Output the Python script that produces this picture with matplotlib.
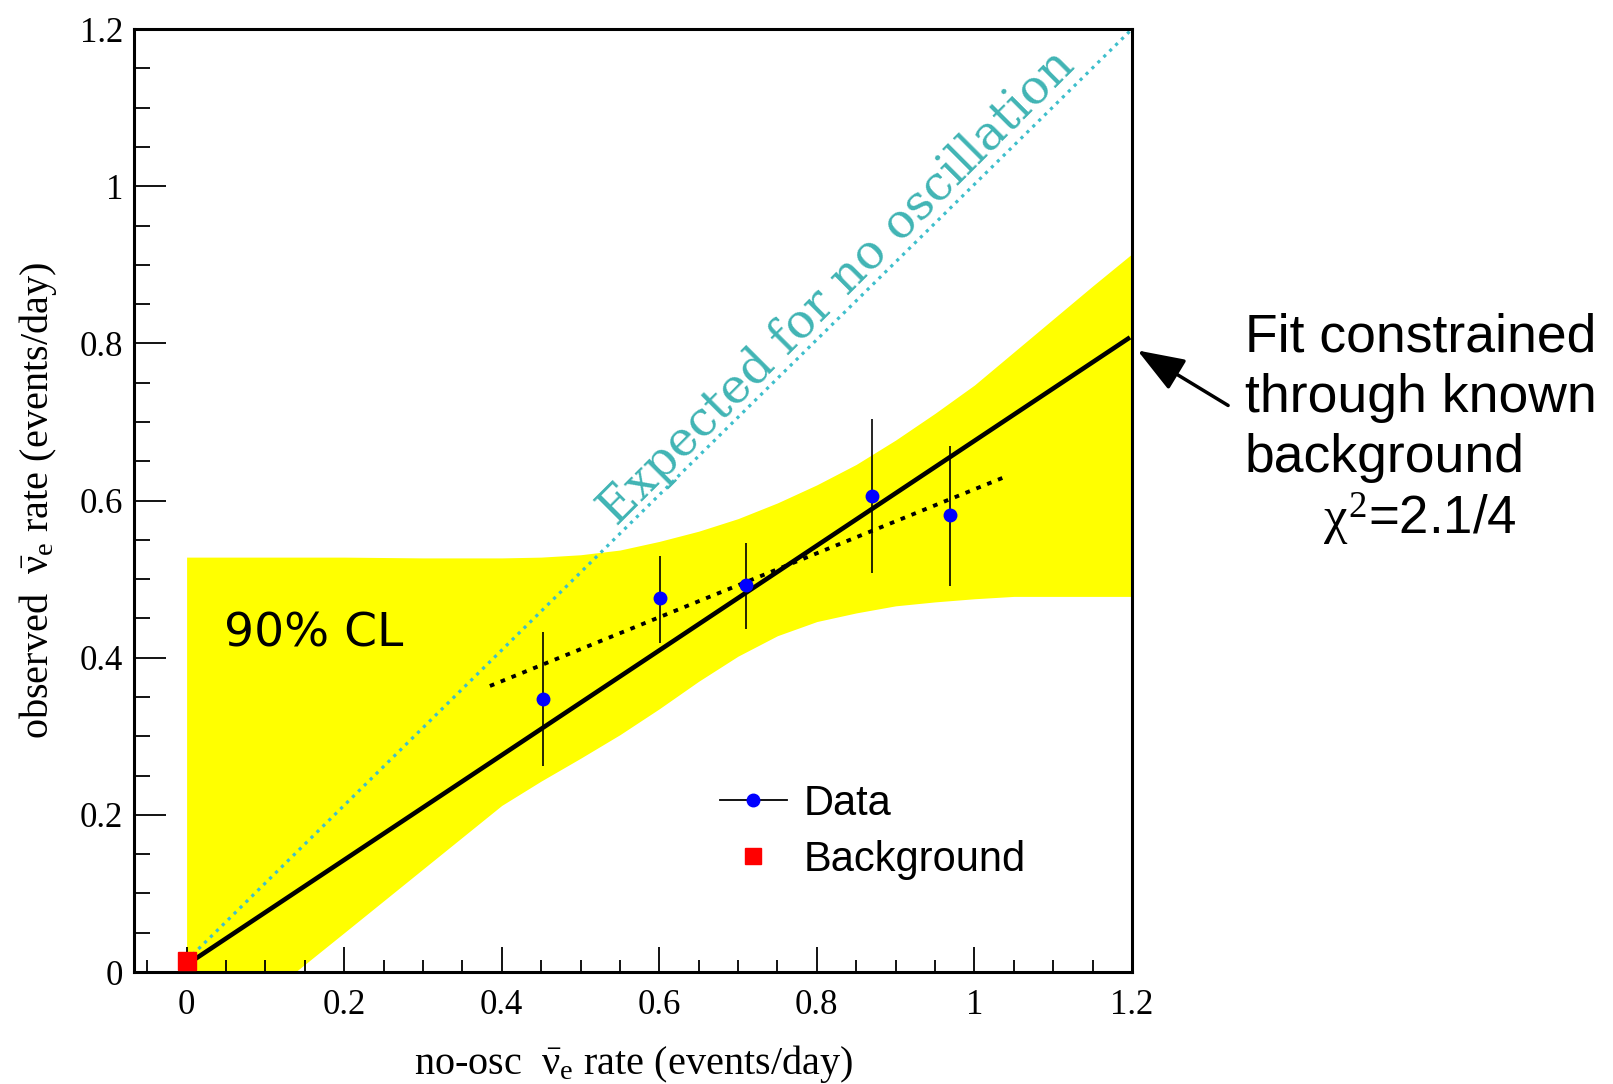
import numpy as np
import matplotlib
matplotlib.use("Agg")
import matplotlib.pyplot as plt
from matplotlib.ticker import MultipleLocator

plt.rcParams['mathtext.fontset'] = 'custom'
plt.rcParams['mathtext.rm'] = 'Liberation Serif'
plt.rcParams['mathtext.it'] = 'Liberation Serif'

# data
data_x = [0.452, 0.601, 0.710, 0.870, 0.969]
data_y = [0.348, 0.476, 0.492, 0.606, 0.581]
data_lo = [0.262, 0.419, 0.437, 0.508, 0.491]
data_hi = [0.433, 0.530, 0.546, 0.704, 0.669]

bkg_x = [0.0]
bkg_y = [0.0145]

fit_x = [0.01, 1.195]
fit_y = [0.016, 0.806]

free_fit_x = [0.385, 1.041]
free_fit_y = [0.364, 0.631]

expected_x = [0.0, 1.2]
expected_y = [0.0145, 1.2]

band_x = [0.0, 0.1, 0.138, 0.2, 0.3, 0.4, 0.45, 0.5, 0.55, 0.6, 0.65, 0.7,
          0.75, 0.8, 0.85, 0.9, 0.95, 1.0, 1.05, 1.1, 1.15, 1.2]
band_hi = [0.528, 0.528, 0.528, 0.528, 0.527, 0.527, 0.528, 0.531, 0.537, 0.548, 0.561, 0.577,
           0.597, 0.620, 0.646, 0.677, 0.711, 0.747, 0.789, 0.831, 0.873, 0.914]
band_lo = [0.0, 0.0, 0.0, 0.05, 0.131, 0.212, 0.243, 0.272, 0.302, 0.335, 0.370, 0.402,
           0.428, 0.446, 0.457, 0.466, 0.471, 0.475, 0.478, 0.478, 0.478, 0.478]

fig = plt.figure(figsize=(16.13, 10.84), dpi=100)
ax = fig.add_axes([0.0831, 0.1033, 0.6187, 0.8699])

ax.fill_between(band_x, band_lo, band_hi, color='#ffff00', linewidth=0, zorder=1)
ax.plot(expected_x, expected_y, linestyle=(0, (1, 1.6)), color='#3ebfcc', lw=2.3, zorder=2)
ax.plot(fit_x, fit_y, '-', color='black', lw=3.3, zorder=3)
ax.plot(free_fit_x, free_fit_y, linestyle=(0, (1.2, 1.8)), color='black', lw=2.8, zorder=3)

ax.vlines(data_x, data_lo, data_hi, color='black', lw=1.2, zorder=4)
ax.plot(data_x, data_y, 'o', color='#0000ff', ms=9, zorder=5)
ax.plot(bkg_x, bkg_y, 's', color='#ff0000', ms=13, zorder=5, clip_on=False)

ax.set_xlim(-0.0667, 1.2)
ax.set_ylim(0, 1.2)
ax.xaxis.set_major_locator(MultipleLocator(0.2))
ax.xaxis.set_minor_locator(MultipleLocator(0.05))
ax.yaxis.set_major_locator(MultipleLocator(0.2))
ax.yaxis.set_minor_locator(MultipleLocator(0.05))

def fmt(v, pos):
    return ('%g' % round(v, 2))
ax.xaxis.set_major_formatter(plt.FuncFormatter(fmt))
ax.yaxis.set_major_formatter(plt.FuncFormatter(fmt))

ax.tick_params(axis='both', which='both', direction='in', top=False, right=False,
               width=1.3, labelsize=25)
ax.tick_params(axis='y', which='major', length=23, pad=8)
ax.tick_params(axis='y', which='minor', length=11.5)
ax.tick_params(axis='x', which='major', length=18, pad=12)
ax.tick_params(axis='x', which='minor', length=9)
for lab in ax.get_xticklabels() + ax.get_yticklabels():
    lab.set_family('Liberation Serif')
for sp in ax.spines.values():
    sp.set_linewidth(2.2)

ax.set_xlabel(r'no-osc  $\bar{\nu}_{\mathrm{e}}$ rate (events/day)',
              fontsize=29, family='Liberation Serif', labelpad=15)
ax.set_ylabel(r'observed  $\bar{\nu}_{\mathrm{e}}$ rate (events/day)',
              fontsize=29, family='Liberation Serif', labelpad=15)

ax.text(0.546, 0.566, 'Expected for no oscillation', rotation=45,
        rotation_mode='anchor', fontsize=34.5, family='DejaVu Serif',
        color='#40b4b4', zorder=6)
ax.text(0.048, 0.414, '90% CL', fontsize=34, family='DejaVu Sans', color='black', zorder=6)

# legend
h_data, = ax.plot([], [], '-', color='black', lw=1.3, marker='o', mfc='#0000ff',
                  mec='#0000ff', ms=9)
h_bkg, = ax.plot([], [], 's', color='#ff0000', ms=12, ls='none')
leg = fig.legend([h_data, h_bkg], ['Data', 'Background'], loc='upper left',
                 bbox_to_anchor=(0.4335, 0.296), frameon=False,
                 handlelength=1.6, handletextpad=0.4, labelspacing=0.38,
                 borderpad=0, prop={'family': 'Liberation Sans', 'size': 30})

# right-hand annotation
ax.annotate('', xy=(1.207, 0.791), xytext=(1.322, 0.721), xycoords='data',
            annotation_clip=False,
            arrowprops=dict(arrowstyle='-|>,head_length=1.45,head_width=0.54',
                            mutation_scale=20, color='black', lw=2.5,
                            shrinkA=0, shrinkB=0))
note_lines = ['Fit constrained', 'through known', 'background']
note_base = [352, 412, 472]
for txt, yb in zip(note_lines, note_base):
    fig.text(1245 / 1613, 1 - yb / 1084, txt, fontsize=38.5,
             family='Liberation Sans', va='baseline', ha='left')
fig.text(1323 / 1613, 1 - 535 / 1084, r'$\chi^{2}$=2.1/4', fontsize=38,
         family='Liberation Sans', va='baseline', ha='left')

fig.savefig('out.png', dpi=100)
